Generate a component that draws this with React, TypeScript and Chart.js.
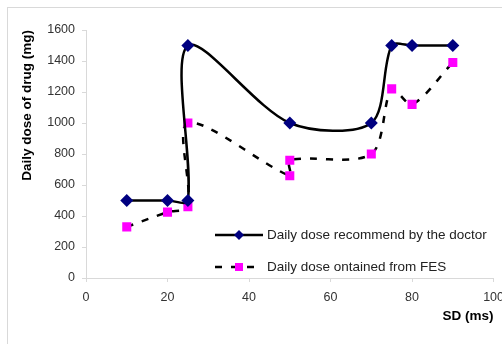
import React, { useEffect, useRef } from 'react';
import { Chart, registerables } from 'chart.js';

Chart.register(...registerables);

const doctorX = [10, 20, 25, 25, 50, 70, 75, 80, 90];
const doctorY = [500, 500, 500, 1500, 1000, 1000, 1500, 1500, 1500];
const fesX = [10, 20, 25, 25, 50, 50, 70, 75, 80, 90];
const fesY = [330, 425, 460, 1000, 660, 760, 800, 1220, 1120, 1390];
const xTicks = [0, 20, 40, 60, 80, 100];
const yTicks = [0, 200, 400, 600, 800, 1000, 1200, 1400, 1600];
const seriesLabels = ['Daily dose recommend by the doctor', 'Daily dose ontained from FES'];
const xTitle = 'SD (ms)';
const yTitle = 'Daily dose of drug (mg)';

const FONT = '"Liberation Sans", Arial, sans-serif';
const AXIS_COLOR = '#d9d9d9';
const DASH = [7, 9];

const legendPlugin = {
  id: 'insideLegend',
  afterDraw(chart: any) {
    const { ctx, chartArea } = chart;
    const x0 = chartArea.left + 129;
    const x1 = chartArea.left + 177;
    const xm = (x0 + x1) / 2;
    const tx = chartArea.left + 181;
    const rows = [chartArea.top + 205, chartArea.top + 237];
    ctx.save();
    ctx.strokeStyle = '#000';
    ctx.lineWidth = 2.5;
    ctx.beginPath();
    ctx.moveTo(x0, rows[0]);
    ctx.lineTo(x1, rows[0]);
    ctx.stroke();
    ctx.fillStyle = '#000080';
    ctx.beginPath();
    const r = 5;
    ctx.moveTo(xm, rows[0] - r);
    ctx.lineTo(xm + r, rows[0]);
    ctx.lineTo(xm, rows[0] + r);
    ctx.lineTo(xm - r, rows[0]);
    ctx.closePath();
    ctx.fill();
    ctx.setLineDash(DASH);
    ctx.lineDashOffset = 0;
    ctx.beginPath();
    ctx.moveTo(x0, rows[1]);
    ctx.lineTo(x1, rows[1]);
    ctx.stroke();
    ctx.setLineDash([]);
    ctx.fillStyle = '#ff00ff';
    ctx.fillRect(xm - 4, rows[1] - 4, 8, 8);
    ctx.fillStyle = '#222';
    ctx.font = `13.5px ${FONT}`;
    ctx.textBaseline = 'middle';
    ctx.textAlign = 'left';
    ctx.fillText(seriesLabels[0], tx, rows[0]);
    ctx.fillText(seriesLabels[1], tx, rows[1]);
    ctx.restore();
  },
};

function ChartView() {
  const ref = useRef<HTMLCanvasElement>(null);
  useEffect(() => {
    if (!ref.current) return;
    const chart = new Chart(ref.current, {
      type: 'scatter',
      data: {
        datasets: [
          {
            label: seriesLabels[0],
            data: doctorX.map((x, i) => ({ x, y: doctorY[i] })),
            showLine: true,
            tension: 0.3,
            borderColor: '#000',
            borderWidth: 2.5,
            pointStyle: 'rectRot',
            pointRadius: 6.5,
            pointBackgroundColor: '#000080',
            pointBorderColor: '#000080',
            pointBorderWidth: 0,
          },
          {
            label: seriesLabels[1],
            data: fesX.map((x, i) => ({ x, y: fesY[i] })),
            showLine: true,
            tension: 0.3,
            borderColor: '#000',
            borderWidth: 2.5,
            borderDash: DASH,
            pointStyle: 'rect',
            pointRadius: 6.4,
            pointBackgroundColor: '#ff00ff',
            pointBorderColor: '#ff00ff',
            pointBorderWidth: 0,
          },
        ],
      },
      options: {
        animation: false,
        responsive: false,
        maintainAspectRatio: false,
        layout: { padding: { left: 0, top: 30, right: 18, bottom: 0 } },
        plugins: {
          legend: { display: false },
          tooltip: { enabled: false },
        },
        scales: {
          x: {
            type: 'linear',
            min: 0,
            max: 100,
            afterBuildTicks: (s: any) => {
              s.ticks = xTicks.map((v) => ({ value: v }));
            },
            afterFit: (s: any) => {
              s.height = 66;
            },
            grid: {
              drawOnChartArea: false,
              drawTicks: true,
              tickLength: 4,
              color: AXIS_COLOR,
            },
            border: { color: AXIS_COLOR, width: 1 },
            ticks: {
              padding: 8,
              color: '#333',
              font: { family: FONT, size: 12.5 },
              maxRotation: 0,
              callback: (v: any) => String(v),
            },
            title: {
              display: true,
              text: xTitle,
              align: 'end',
              color: '#000',
              font: { family: FONT, size: 13.5, weight: 'bold' },
              padding: { top: 0, bottom: 20 },
            },
          },
          y: {
            type: 'linear',
            min: 0,
            max: 1600,
            afterBuildTicks: (s: any) => {
              s.ticks = yTicks.map((v) => ({ value: v }));
            },
            afterFit: (s: any) => {
              s.width = 86;
            },
            grid: {
              drawOnChartArea: false,
              drawTicks: true,
              tickLength: 4,
              color: AXIS_COLOR,
            },
            border: { color: AXIS_COLOR, width: 1 },
            ticks: {
              padding: 7,
              color: '#333',
              font: { family: FONT, size: 12.5 },
              callback: (v: any) => String(v),
            },
            title: {
              display: true,
              text: yTitle,
              align: 'end',
              color: '#000',
              font: { family: FONT, size: 13.5, weight: 'bold' },
              padding: { top: 19, bottom: 0 },
            },
          },
        },
      },
      plugins: [legendPlugin],
    } as any);
    return () => chart.destroy();
  }, []);
  return (
    <canvas
      ref={ref}
      width={512}
      height={344}
      style={{ position: 'absolute', left: 0, top: 0, width: 512, height: 344 }}
    />
  );
}

export default function App() {
  return (
    <div
      style={{
        position: 'fixed',
        left: 0,
        top: 0,
        width: 502,
        height: 344,
        overflow: 'hidden',
        background: '#fff',
      }}
    >
      <div
        style={{
          position: 'absolute',
          left: 7,
          top: 7,
          width: 560,
          height: 400,
          border: '1px solid #d9d9d9',
        }}
      />
      <ChartView />
    </div>
  );
}
